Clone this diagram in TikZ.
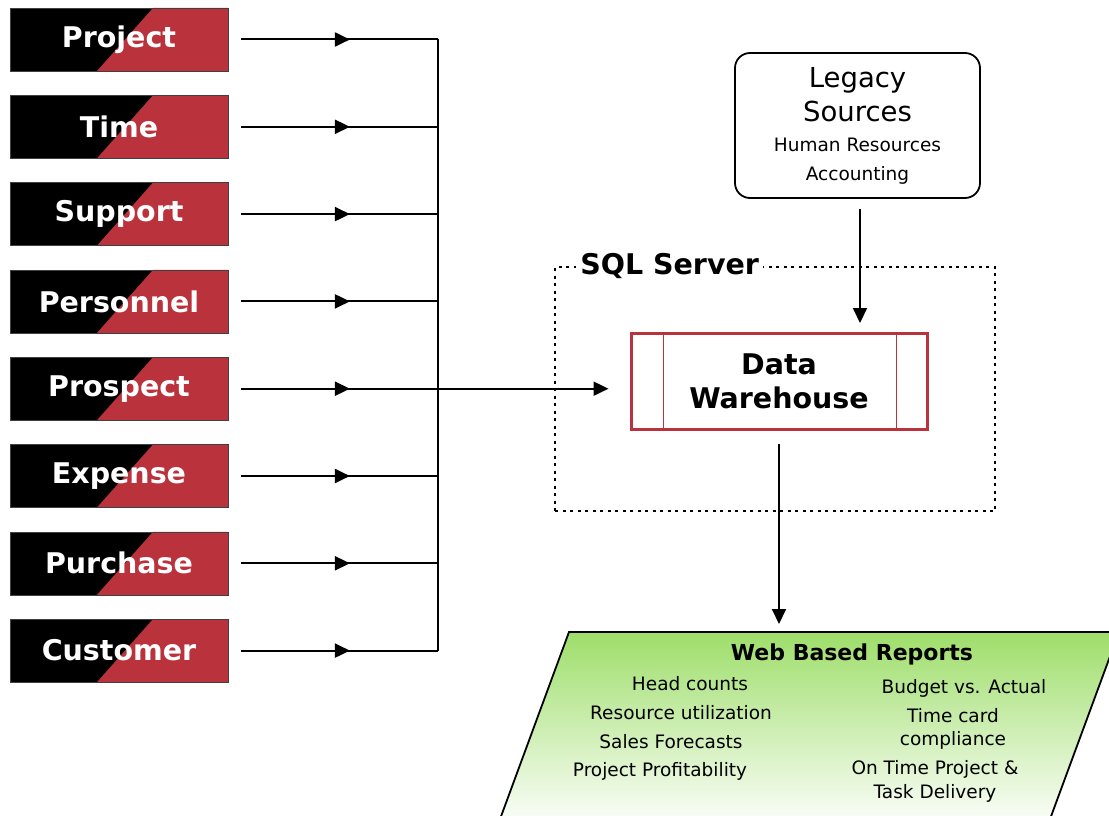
\documentclass[tikz,border=0pt]{standalone}
\usepackage{fontspec}
\setmainfont{DejaVu Sans}
\usetikzlibrary{arrows.meta,decorations.markings}
\definecolor{dwred}{RGB}{186,50,60}
\definecolor{repgreen}{RGB}{158,222,106}
\tikzset{
  srcbox/.style={draw=black!75, line width=0.6pt, fill=black, minimum width=218pt, minimum height=63pt,
    text=white, font=\fontsize{28.5}{30}\selectfont\bfseries, inner sep=0pt,
    path picture={\fill[dwred] ([xshift=143pt]path picture bounding box.north west)
      -- (path picture bounding box.north east) -- (path picture bounding box.south east)
      -- ([xshift=87pt]path picture bounding box.south west) -- cycle;}},
  tip/.style={-{Triangle[length=15pt,width=14pt]}},
  feed/.style={line width=2pt, shorten <=13pt, postaction={decorate},
    decoration={markings, mark=at position 0.58 with {\arrow{Triangle[length=15pt,width=14pt]}}}},
}
\begin{document}
\begin{tikzpicture}[x=1pt,y=-1pt]
\useasboundingbox (0,0) rectangle (1109,816);
\clip (0,0) rectangle (1109,816);
% source systems
\node[srcbox] (project) at (119,39.5) {Project};
\node[srcbox] (time) at (119,126.8) {Time};
\node[srcbox] (support) at (119,214.1) {Support};
\node[srcbox] (personnel) at (119,301.4) {Personnel};
\node[srcbox] (prospect) at (119,388.7) {Prospect};
\node[srcbox] (expense) at (119,476) {Expense};
\node[srcbox] (purchase) at (119,563.3) {Purchase};
\node[srcbox] (customer) at (119,650.6) {Customer};
\coordinate (bus) at (438,0);
\draw[feed] (project.east) -- (project.east -| bus);
\draw[feed] (time.east) -- (time.east -| bus);
\draw[feed] (support.east) -- (support.east -| bus);
\draw[feed] (personnel.east) -- (personnel.east -| bus);
\draw[feed] (prospect.east) -- (prospect.east -| bus);
\draw[feed] (expense.east) -- (expense.east -| bus);
\draw[feed] (purchase.east) -- (purchase.east -| bus);
\draw[feed] (customer.east) -- (customer.east -| bus);
\draw[line width=2pt] (project.east -| bus) -- (customer.east -| bus);
% sql server
\node[draw, line width=1.8pt, dash pattern=on 3pt off 4.5pt, minimum width=440pt, minimum height=244pt] (sql) at (775,389) {};
\node[fill=white, anchor=west, inner sep=4pt, font=\fontsize{28.5}{30}\selectfont\bfseries] (sqltitle) at ([xshift=22pt]sql.north west) {SQL Server};
\node[draw=dwred, line width=3pt, minimum width=296pt, minimum height=96pt, align=center,
  font=\fontsize{28.5}{34}\selectfont\bfseries] (dw) at (779,381.5) {Data\\Warehouse};
\draw[dwred, line width=1.6pt] ([xshift=34pt]dw.north west) -- ([xshift=34pt]dw.south west);
\draw[dwred, line width=1.6pt] ([xshift=-32pt]dw.north east) -- ([xshift=-32pt]dw.south east);
\draw[tip, line width=2pt, shorten >=21pt] (prospect.east -| bus) -- (prospect.east -| dw.west);
% legacy
\node[draw, line width=1.8pt, rounded corners=15pt, minimum width=245pt, minimum height=145pt, align=center,
  font=\fontsize{18.5}{29}\selectfont] (legacy) at (857.5,125.5)
  {{\fontsize{27.5}{34}\selectfont Legacy}\\[5pt]{\fontsize{27.5}{34}\selectfont Sources}\\[1pt]Human Resources\\Accounting};
\draw[tip, line width=2pt, shorten <=10pt, shorten >=9pt] ([xshift=2.5pt]legacy.south) -- ([xshift=2.5pt]legacy.south |- dw.north);
% reports
\coordinate (rep) at (779,632);
\shade[top color=repgreen, bottom color=white, draw, line width=1.8pt] (569,632) -- (1119,632) -- (1046,830) -- (496,830) -- cycle;
\draw[tip, line width=2pt, shorten <=13pt, shorten >=8pt] (dw.south) -- (rep);
\node[font=\fontsize{22}{24}\selectfont\bfseries] (reptitle) at (852,654) {Web Based Reports};
\node[font=\fontsize{18.5}{20}\selectfont] (r1) at (690,684) {Head counts};
\node[font=\fontsize{18.5}{20}\selectfont] (r2) at (681,713) {Resource utilization};
\node[font=\fontsize{18.5}{20}\selectfont] (r3) at (671,742) {Sales Forecasts};
\node[font=\fontsize{18.5}{20}\selectfont] (r4) at (660,771) {Project Profitability};
\node[font=\fontsize{18.5}{20}\selectfont] (r5) at (964,688) {Budget vs. Actual};
\node[font=\fontsize{18.5}{23}\selectfont, align=center] (r6) at (953,729) {Time card\\compliance};
\node[font=\fontsize{18.5}{24}\selectfont, align=center] (r7) at (935,781) {On Time Project \&\\Task Delivery};
\end{tikzpicture}
\end{document}
